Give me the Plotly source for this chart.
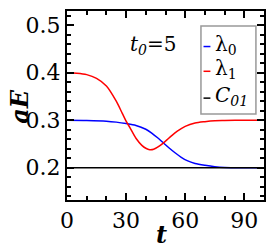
import plotly.graph_objects as go

# lambda_0 (blue)
t_l0 = [0, 10, 20, 25, 30, 35, 40, 43, 46, 49, 52, 55, 58, 61, 65, 70, 75, 80, 90, 100]
l0 = [0.300, 0.2995, 0.298, 0.296, 0.293, 0.289, 0.281, 0.273, 0.263, 0.252,
      0.241, 0.231, 0.222, 0.215, 0.209, 0.205, 0.202, 0.2005, 0.200, 0.200]

# lambda_1 (red)
t_l1 = [0, 5, 10, 15, 20, 25, 28, 30, 32, 35, 38, 40, 42, 44, 47, 50, 53, 56,
        60, 65, 70, 75, 80, 90, 100]
l1 = [0.400, 0.399, 0.396, 0.388, 0.372, 0.340, 0.315, 0.298, 0.284, 0.262,
      0.247, 0.241, 0.238, 0.239, 0.246, 0.256, 0.267, 0.277, 0.287, 0.294,
      0.297, 0.299, 0.2995, 0.300, 0.300]

# C_01 (black)
t_c = [0, 100]
c01 = [0.2, 0.2]

x_ticks = [0, 30, 60, 90]
y_ticks = [0.2, 0.3, 0.4, 0.5]

FONT = "DejaVu Serif"

fig = go.Figure()
fig.add_trace(go.Scatter(x=t_l0, y=l0, mode="lines", line=dict(color="#0000ff", width=1.5, shape="spline", smoothing=0.8)))
fig.add_trace(go.Scatter(x=t_l1, y=l1, mode="lines", line=dict(color="#ff0000", width=1.5, shape="spline", smoothing=0.8)))
fig.add_trace(go.Scatter(x=t_c, y=c01, mode="lines", line=dict(color="#000000", width=1.5)))

axis_common = dict(
    showgrid=False, zeroline=False, showline=True, linecolor="black", linewidth=2,
    mirror="allticks", ticks="inside", ticklen=7, tickwidth=1.5, tickcolor="black",
    tickfont=dict(family=FONT, size=22, color="black"), ticklabeloverflow="allow",
)

fig.update_xaxes(range=[0, 100], tickvals=x_ticks, ticktext=[str(v) for v in x_ticks],
                 minor=dict(dtick=10, ticks="inside", ticklen=4, tickwidth=1.5, tickcolor="black"),
                 **axis_common)
fig.update_yaxes(range=[0.132, 0.53], tickvals=y_ticks, ticktext=[f"{v:.1f}" for v in y_ticks],
                 minor=dict(dtick=0.02, ticks="inside", ticklen=4, tickwidth=1.5, tickcolor="black"),
                 **axis_common)

# manual legend
fig.add_shape(type="rect", xref="paper", yref="paper", x0=0.680, x1=0.959, y0=0.455, y1=0.921,
              line=dict(color="#999999", width=1.5), fillcolor="white", layer="above")
legend_items = [("#0000ff", "λ<sub>0</sub>", 0.812), ("#ff0000", "λ<sub>1</sub>", 0.681),
                ("#000000", "<i>C</i><sub><i>01</i></sub>", 0.539)]
for col, txt, yy in legend_items:
    fig.add_shape(type="line", xref="paper", yref="paper", x0=0.693, x1=0.728, y0=yy, y1=yy,
                  line=dict(color=col, width=1.5), layer="above")
    fig.add_annotation(xref="paper", yref="paper", x=0.741, y=yy + 0.01, text=txt, showarrow=False,
                       xanchor="left", yanchor="middle", font=dict(family=FONT, size=20, color="black"))

fig.add_annotation(xref="paper", yref="paper", x=0.437, y=0.822, text="<i>t</i><sub><i>0</i></sub>=5",
                   showarrow=False, xanchor="center", yanchor="middle",
                   font=dict(family=FONT, size=20, color="black"))

# axis titles
fig.add_annotation(xref="paper", yref="paper", x=-0.245, y=0.497, text="<b><i>aE</i></b>", textangle=-90,
                   showarrow=False, xanchor="center", yanchor="middle",
                   font=dict(family=FONT, size=24, color="black"))
fig.add_annotation(xref="paper", yref="paper", x=0.48, y=-0.18, text="<b><i>t</i></b>",
                   showarrow=False, xanchor="center", yanchor="middle",
                   font=dict(family=FONT, size=24, color="black"))

# page body has an 8px default margin; compensate so the plot sits where the reference's does
fig.update_layout(width=266, height=244, margin=dict(l=59, r=10, t=1, b=52),
                  paper_bgcolor="white", plot_bgcolor="white", showlegend=False,
                  font=dict(family=FONT))

fig.write_html("out.html")
